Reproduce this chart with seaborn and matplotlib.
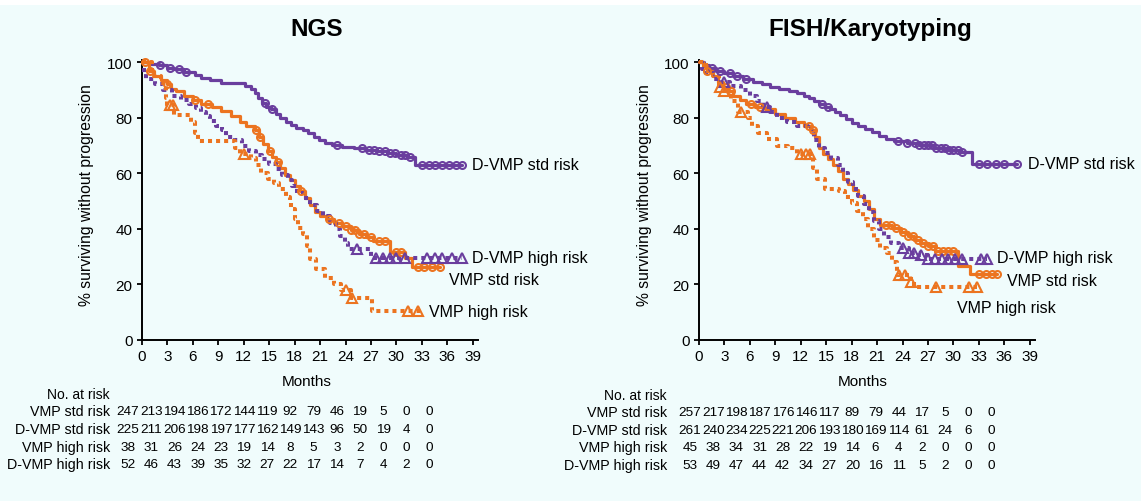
import numpy as np
import matplotlib
matplotlib.use("Agg")
import matplotlib.pyplot as plt
from matplotlib.patches import Rectangle
import seaborn as sns

# ---------------- data ----------------
months_ticks = list(range(0, 40, 3))
yticks = [0, 20, 40, 60, 80, 100]
panel_titles = ["NGS", "FISH/Karyotyping"]
series_names = ["VMP std risk", "D-VMP std risk", "VMP high risk", "D-VMP high risk"]

# NGS panel: step times (months) and survival (%) after each step, end of follow-up
ngs_dvmp_std_t = [0, 1.0, 2.0, 3.0, 3.8, 5.0, 6.2, 7.0, 8.0, 9.3, 12.2, 12.8, 13.3, 13.7, 14.2, 14.6,
                  15.2, 15.8, 16.3, 17.0, 17.6, 18.2, 19.0, 19.6, 20.3, 20.9, 21.6, 22.4, 23.6, 25.0,
                  26.4, 27.7, 29.0, 30.0, 31.2, 32.2]
ngs_dvmp_std_s = [100, 99.5, 99, 98, 97.5, 96.5, 95.5, 94.5, 93.5, 92.5, 91.5, 90.5, 89, 87, 85.5, 84,
                  83, 81.5, 80, 78.5, 77.5, 76.5, 75.5, 74.5, 73, 72, 71, 70.3, 69.5, 69,
                  68.5, 68, 67.2, 66.5, 65.8, 63]
ngs_dvmp_std_end = 37.7
ngs_dvmp_std_cens = [2.1, 3.3, 4.4, 5.2, 14.5, 15.3, 23.0, 26.0, 26.8, 27.4, 28.0, 28.6, 29.2, 29.8,
                     30.5, 31.0, 31.6, 33.0, 33.8, 34.6, 35.4, 36.2, 37.0, 37.7]

ngs_vmp_std_t = [0, 0.8, 1.4, 2.2, 2.9, 3.4, 4.0, 5.0, 6.0, 7.0, 8.2, 9.3, 10.5, 11.5, 12.3, 13.3, 13.8,
                 14.3, 14.8, 15.3, 15.8, 16.3, 16.9, 17.4, 18.0, 18.6, 19.2, 19.8, 20.4, 21.0, 21.8,
                 22.7, 23.6, 24.6, 25.6, 26.4, 27.2, 29.2, 31.0, 31.8]
ngs_vmp_std_s = [100, 97, 95, 93.5, 92, 90.5, 89.5, 88, 86.5, 85, 84, 82.5, 80.5, 78.5, 77, 75.5, 73,
                 70.5, 68, 66, 64, 62, 59.5, 57.5, 55.5, 53.5, 51, 48.5, 46, 44.5, 43.5,
                 42, 41, 39.5, 38, 37, 35.5, 31.8, 29.5, 26.2]
ngs_vmp_std_end = 35.1
ngs_vmp_std_cens = [0.4, 1.0, 3.0, 6.2, 7.8, 13.4, 13.9, 15.1, 16.0, 18.7, 22.0, 23.2, 24.0, 24.6,
                    25.1, 25.6, 26.2, 27.0, 28.0, 28.6, 30.0, 30.6, 32.5, 33.3, 34.2, 35.1]

ngs_dvmp_high_t = [0, 0.2, 0.5, 1.5, 2.5, 3.5, 4.6, 5.6, 6.4, 7.0, 7.5, 8.0, 8.7, 9.4, 9.9, 11.0, 11.8,
                   12.6, 13.4, 14.2, 15.0, 15.8, 16.5, 17.2, 17.7, 18.3, 19.0, 19.8, 20.6, 21.4, 22.2,
                   22.9, 23.4, 23.9, 24.3, 27.0]
ngs_dvmp_high_s = [100, 96, 94, 92, 90, 88, 86.5, 85, 83.5, 82, 80.5, 79, 77, 75.5, 73, 72, 70,
                   68, 66.5, 65, 63.5, 61.5, 59.5, 57.5, 55.5, 53, 51, 48.5, 46.5, 44.5, 42,
                   40, 37.5, 35, 32.7, 29.7]
ngs_dvmp_high_end = 37.7
ngs_dvmp_high_cens = [25.3, 27.6, 28.4, 29.2, 30.0, 31.0, 33.6, 34.5, 35.4, 36.6, 37.7]

ngs_vmp_high_t = [0, 1.2, 2.2, 2.8, 3.0, 3.8, 5.8, 6.2, 6.6, 11.0, 11.6, 12.8, 13.4, 14.0, 14.8, 15.6,
                  16.2, 17.0, 17.4, 17.6, 18.0, 18.4, 19.0, 19.5, 19.8, 20.5, 21.6, 22.6, 23.5, 24.6, 27.1]
ngs_vmp_high_s = [100, 95, 92.5, 87, 84.5, 81, 78.5, 74.5, 71.5, 69, 67, 65.5, 63, 60, 58, 56.5,
                  54.5, 51.5, 49.5, 47, 43.5, 40.5, 38, 34, 29, 25.5, 22.5, 20, 18, 15.3, 10.5]
ngs_vmp_high_end = 32.8
ngs_vmp_high_cens = [3.3, 3.7, 12.0, 24.0, 24.8, 31.4, 32.5]

# FISH/Karyotyping panel
fish_dvmp_std_t = [0, 0.6, 1.2, 2.0, 3.0, 4.0, 5.2, 6.4, 7.4, 8.4, 9.4, 10.6, 11.6, 12.4, 13.0, 13.6,
                   14.2, 14.8, 15.4, 16.0, 16.6, 17.3, 18.0, 18.8, 19.6, 20.4, 21.2, 22.0, 23.0, 24.5,
                   26.0, 27.7, 29.3, 30.9, 32.2]
fish_dvmp_std_s = [100, 99, 98, 97, 96, 95, 94, 93, 92, 91, 90.3, 89.5, 88.8, 88, 87, 86,
                   85, 84, 83, 82, 81, 79.5, 78, 77, 76, 75, 73.5, 72.5, 71.5, 70.8,
                   70.2, 69.3, 68.5, 67.8, 63.5]
fish_dvmp_std_end = 37.5
fish_dvmp_std_cens = [1.5, 2.5, 3.6, 4.5, 5.5, 14.5, 15.2, 23.5, 24.5, 25.5, 26.0, 26.5, 27.0, 27.5,
                      28.0, 28.5, 29.0, 29.5, 30.0, 30.5, 31.0, 33.0, 34.0, 35.0, 36.0, 37.5]

fish_vmp_std_t = [0, 0.5, 1.0, 1.6, 2.2, 2.8, 3.4, 4.0, 4.8, 5.6, 6.6, 7.8, 9.0, 10.2, 11.3, 12.4, 13.2,
                  13.7, 14.1, 14.6, 15.2, 15.8, 16.4, 17.0, 17.6, 18.2, 18.8, 19.4, 20.0, 20.6, 21.4,
                  22.8, 23.8, 24.6, 25.4, 26.2, 27.0, 27.8, 30.6, 32.0]
fish_vmp_std_s = [100, 98.5, 97, 95, 93, 91, 89.5, 88, 86.5, 85, 84, 83, 81.5, 80, 78.5, 77, 75.5,
                  73, 69, 67, 65, 63, 61, 58, 56, 54, 52, 50, 47, 43.5, 41.5,
                  40.5, 39, 37.5, 36, 35, 34, 32.2, 26.8, 23.8]
fish_vmp_std_end = 35.2
fish_vmp_std_cens = [1.0, 3.2, 3.8, 6.1, 7.2, 13.0, 13.4, 22.0, 22.6, 23.2, 24.0, 24.6, 25.2, 25.8,
                     26.4, 27.0, 27.6, 28.2, 28.8, 29.4, 30.0, 33.0, 33.8, 34.5, 35.2]

fish_dvmp_high_t = [0, 0.3, 0.8, 1.6, 2.6, 3.6, 5.0, 6.0, 6.8, 7.6, 8.4, 9.2, 10.4, 11.6, 12.8, 13.6,
                    14.1, 14.8, 15.6, 16.4, 17.0, 17.6, 18.2, 18.8, 19.4, 20.0, 20.6, 21.2, 21.8, 22.6,
                    23.6, 24.8, 26.0, 27.0]
fish_dvmp_high_s = [100, 97.5, 96, 94, 93, 91.5, 90, 88, 86, 84, 82, 80, 78.5, 77, 76, 72,
                    69, 67.5, 65.5, 63, 60, 57, 54.5, 52, 49, 46, 43, 40, 37, 35,
                    33, 31.5, 30.5, 29.2]
fish_dvmp_high_end = 34.0
fish_dvmp_high_cens = [3.0, 8.0, 24.0, 24.8, 25.4, 26.2, 27.0, 27.8, 28.6, 29.4, 30.2, 31.0, 33.3, 34.0]

fish_vmp_high_t = [0, 0.8, 1.6, 2.3, 3.0, 3.8, 4.6, 5.8, 6.3, 7.0, 8.0, 9.2, 10.5, 11.5, 13.5, 13.9,
                   14.8, 16.5, 17.2, 18.0, 18.6, 19.3, 19.9, 20.6, 21.3, 22.2, 22.8, 23.3, 25.0, 25.4]
fish_vmp_high_s = [100, 97, 95, 91, 89.5, 86, 82, 80, 77, 74.5, 72.5, 70, 69, 67, 62, 58,
                   54.5, 53.5, 51.5, 49.5, 46.5, 43.5, 40, 36, 33, 31.5, 28, 23.5, 21, 19]
fish_vmp_high_end = 32.8
fish_vmp_high_cens = [2.5, 3.0, 4.9, 12.0, 12.6, 13.1, 23.6, 24.3, 25.0, 28.0, 31.8, 32.8]

# Numbers at risk (columns at months 0,3,...,39)
ngs_risk_vmp_std = [247, 213, 194, 186, 172, 144, 119, 92, 79, 46, 19, 5, 0, 0]
ngs_risk_dvmp_std = [225, 211, 206, 198, 197, 177, 162, 149, 143, 96, 50, 19, 4, 0]
ngs_risk_vmp_high = [38, 31, 26, 24, 23, 19, 14, 8, 5, 3, 2, 0, 0, 0]
ngs_risk_dvmp_high = [52, 46, 43, 39, 35, 32, 27, 22, 17, 14, 7, 4, 2, 0]
fish_risk_vmp_std = [257, 217, 198, 187, 176, 146, 117, 89, 79, 44, 17, 5, 0, 0]
fish_risk_dvmp_std = [261, 240, 234, 225, 221, 206, 193, 180, 169, 114, 61, 24, 6, 0]
fish_risk_vmp_high = [45, 38, 34, 31, 28, 22, 19, 14, 6, 4, 2, 0, 0, 0]
fish_risk_dvmp_high = [53, 49, 47, 44, 42, 34, 27, 20, 16, 11, 5, 2, 0, 0]

# ---------------- style ----------------
W, H = 1141, 502
BG = "#f0fcfc"
PURPLE = "#6a3e9e"
ORANGE = "#ec7420"

sns.set_style("ticks")
plt.rcParams["font.family"] = ["Liberation Sans", "DejaVu Sans"]
plt.rcParams["axes.facecolor"] = BG
plt.rcParams["figure.facecolor"] = BG
plt.rcParams["text.color"] = "black"
plt.rcParams["xtick.color"] = "black"
plt.rcParams["ytick.color"] = "black"
plt.rcParams["axes.edgecolor"] = "black"

fig = plt.figure(figsize=(W / 100, H / 100), dpi=100)
fig.patches.append(Rectangle((0, 1 - 6 / H), 1, 6 / H, transform=fig.transFigure,
                             facecolor="white", edgecolor="none", zorder=-5))


def fx(px):
    return px / W


def fy(py):
    return 1 - py / H


def step_at(t, s, c):
    idx = np.searchsorted(np.asarray(t), c, side="right") - 1
    return np.asarray(s)[idx]


def draw_curve(ax, t, s, end, cens, color, dotted, marker):
    tt = list(t) + [end]
    ss = list(s) + [s[-1]]
    if dotted:
        sns.lineplot(x=tt, y=ss, ax=ax, color=color, drawstyle="steps-post", estimator=None,
                     sort=False, linewidth=2.9, linestyle=(0, (1, 1)), dash_capstyle="butt",
                     clip_on=False, zorder=3)
    else:
        sns.lineplot(x=tt, y=ss, ax=ax, color=color, drawstyle="steps-post", estimator=None,
                     sort=False, linewidth=2.3, clip_on=False, zorder=3)
    cy = step_at(t, s, np.asarray(cens))
    ms = 5.0 if marker == "o" else 6.5
    sns.lineplot(x=list(cens), y=list(cy), ax=ax, estimator=None, sort=False, marker=marker,
                 linestyle="", markersize=ms, markerfacecolor="none", markeredgecolor=color,
                 markeredgewidth=1.5, color=color, clip_on=False, zorder=4)


panels = [
    dict(x0=142, title_x=317,
         curves=[(ngs_dvmp_std_t, ngs_dvmp_std_s, ngs_dvmp_std_end, ngs_dvmp_std_cens, PURPLE, False, "o"),
                 (ngs_vmp_std_t, ngs_vmp_std_s, ngs_vmp_std_end, ngs_vmp_std_cens, ORANGE, False, "o"),
                 (ngs_dvmp_high_t, ngs_dvmp_high_s, ngs_dvmp_high_end, ngs_dvmp_high_cens, PURPLE, True, "^"),
                 (ngs_vmp_high_t, ngs_vmp_high_s, ngs_vmp_high_end, ngs_vmp_high_cens, ORANGE, True, "^")],
         labels=[("D-VMP std risk", 472, 166), ("D-VMP high risk", 472, 259),
                 ("VMP std risk", 449, 281), ("VMP high risk", 429, 312)],
         risk=[ngs_risk_vmp_std, ngs_risk_dvmp_std, ngs_risk_vmp_high, ngs_risk_dvmp_high],
         risk_label_x=110, risk_col0=128, risk_rows=[412, 430, 448, 465], noatrisk_y=395,
         ylab_x=87, months_x=307),
    dict(x0=699, title_x=870,
         curves=[(fish_dvmp_std_t, fish_dvmp_std_s, fish_dvmp_std_end, fish_dvmp_std_cens, PURPLE, False, "o"),
                 (fish_vmp_std_t, fish_vmp_std_s, fish_vmp_std_end, fish_vmp_std_cens, ORANGE, False, "o"),
                 (fish_dvmp_high_t, fish_dvmp_high_s, fish_dvmp_high_end, fish_dvmp_high_cens, PURPLE, True, "^"),
                 (fish_vmp_high_t, fish_vmp_high_s, fish_vmp_high_end, fish_vmp_high_cens, ORANGE, True, "^")],
         labels=[("D-VMP std risk", 1028, 165), ("D-VMP high risk", 997, 259),
                 ("VMP std risk", 1007, 282), ("VMP high risk", 957, 309)],
         risk=[fish_risk_vmp_std, fish_risk_dvmp_std, fish_risk_vmp_high, fish_risk_dvmp_high],
         risk_label_x=667, risk_col0=690, risk_rows=[413, 431, 448, 466], noatrisk_y=396,
         ylab_x=644, months_x=863),
]

px_per_month = 8.48
x_max = 39.6
y_top_px, y_bot_px = 60.5, 341
for p, title in zip(panels, panel_titles):
    width_px = x_max * px_per_month
    ax = fig.add_axes([fx(p["x0"]), fy(y_bot_px), width_px / W, (y_bot_px - y_top_px) / H])
    ax.set_facecolor("none")
    for c in p["curves"]:
        draw_curve(ax, *c)
    ax.set_xlim(0, x_max)
    ax.set_ylim(0, 101)
    ax.set_xticks(months_ticks)
    ax.set_yticks(yticks)
    ax.set_xlabel("")
    ax.set_ylabel("")
    sns.despine(ax=ax)
    for sp in ("left", "bottom"):
        ax.spines[sp].set_linewidth(1.4)
        ax.spines[sp].set_color("black")
    ax.tick_params(axis="both", direction="out", length=3.8, width=1.3, labelsize=11,
                   colors="black", pad=3)
    ax.tick_params(axis="x", pad=2.5)
    if ax.get_legend() is not None:
        ax.get_legend().remove()

    fig.text(fx(p["title_x"]), fy(30), title, ha="center", va="center", fontsize=17.5,
             fontweight="bold", color="black")
    fig.text(fx(p["ylab_x"]), fy(195), "% surviving without progression", rotation=90,
             ha="center", va="center", fontsize=11.3)
    fig.text(fx(p["months_x"]), fy(382), "Months", ha="center", va="center", fontsize=11)
    for lab, lx, ly in p["labels"]:
        fig.text(fx(lx), fy(ly), lab, ha="left", va="center", fontsize=11.5)

    fig.text(fx(p["risk_label_x"]), fy(p["noatrisk_y"]), "No. at risk", ha="right",
             va="center", fontsize=10)
    for name, row, ry in zip(series_names, p["risk"], p["risk_rows"]):
        fig.text(fx(p["risk_label_x"]), fy(ry), name, ha="right", va="center", fontsize=10.3)
        for i, v in enumerate(row):
            fig.text(fx(p["risk_col0"] + i * 23.2), fy(ry), str(v), ha="center", va="center",
                     fontsize=9.7)

fig.savefig("out.png", dpi=100, facecolor=BG)
